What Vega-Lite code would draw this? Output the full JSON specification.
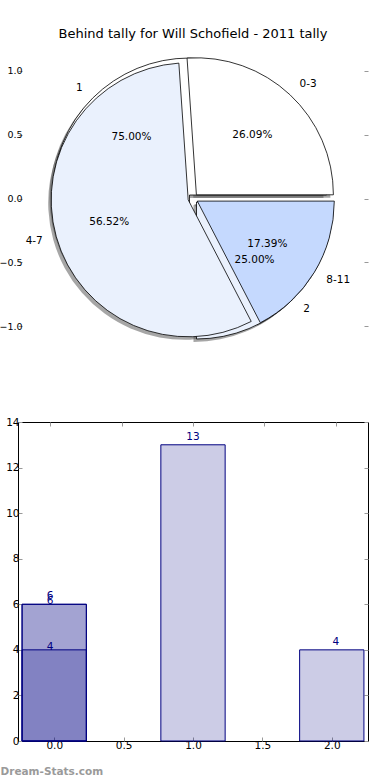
{
  "$schema": "https://vega.github.io/schema/vega-lite/v6.json",
  "padding": {"left": -2, "top": 28, "right": 0, "bottom": 0},
  "background": "#ffffff",
  "datasets": {
    "pie": [
      {"pie": "A", "label": "0-3", "value": 6, "pct": 0.2609, "idx": 0},
      {"pie": "A", "label": "4-7", "value": 13, "pct": 0.5652, "idx": 1},
      {"pie": "A", "label": "8-11", "value": 4, "pct": 0.1739, "idx": 2},
      {"pie": "B", "label": "1", "value": 3, "pct": 0.75, "idx": 0},
      {"pie": "B", "label": "2", "value": 1, "pct": 0.25, "idx": 1}
    ],
    "bars": [
      {"series": "s1", "x": 0, "v": 6},
      {"series": "s1", "x": 1, "v": 13},
      {"series": "s1", "x": 2, "v": 4},
      {"series": "s2", "x": 0, "v": 6},
      {"series": "s3", "x": 0, "v": 4}
    ]
  },
  "config": {
    "font": "DejaVu Sans",
    "view": {"stroke": null},
    "axis": {
      "labelFont": "DejaVu Sans",
      "labelFontSize": 10.5,
      "labelColor": "#000000",
      "tickColor": "#999999",
      "tickSize": -4,
      "labelPadding": 3,
      "domain": false,
      "grid": false,
      "title": null
    }
  },
  "bounds": "flush",
  "spacing": 70,
  "vconcat": [
    {
      "width": 350,
      "height": 307,
      "title": {
        "text": "Behind tally for Will Schofield - 2011 tally",
        "font": "DejaVu Sans",
        "fontSize": 13,
        "fontWeight": "normal",
        "color": "#000000",
        "offset": 4
      },
      "data": {"name": "pie"},
      "layer": [
        {
          "mark": {"type": "point", "opacity": 0},
          "encoding": {
            "y": {"datum": 0, "type": "quantitative", "scale": {"domain": [-1.2, 1.2], "nice": false, "zero": false},
              "axis": {"orient": "left", "values": [-1, -0.5, 0, 0.5, 1], "format": ".1f", "labelPadding": 0, "labelFontSize": 9.5}}
          }
        },
        {
          "mark": {"type": "point", "opacity": 0},
          "encoding": {
            "y": {"datum": 0, "type": "quantitative", "scale": {"domain": [-1.2, 1.2], "nice": false, "zero": false},
              "axis": {"orient": "right", "values": [-1, -0.5, 0, 0.5, 1], "labels": false}}
          }
        },
        {
          "transform": [
            {"stack": "value", "groupby": ["pie"], "sort": [{"field": "idx", "order": "ascending"}], "offset": "normalize", "as": ["v0", "v1"]},
            {"filter": "datum.label === '1'"}
          ],
          "mark": {"type": "arc", "radius": 137, "fill": "#4d4d4d", "fillOpacity": 0.5, "xOffset": -6.5, "yOffset": -0.5},
          "encoding": {
            "theta": {"field": "v0", "type": "quantitative", "scale": {"domain": [0, 1], "range": [1.5708, -4.7124]}},
            "theta2": {"field": "v1"}
          }
        },
        {
          "transform": [
            {"stack": "value", "groupby": ["pie"], "sort": [{"field": "idx", "order": "ascending"}], "offset": "normalize", "as": ["v0", "v1"]},
            {"filter": "datum.label === '2'"}
          ],
          "mark": {"type": "arc", "radius": 137, "fill": "#4d4d4d", "fillOpacity": 0.5, "xOffset": 0.5, "yOffset": 6.5},
          "encoding": {
            "theta": {"field": "v0", "type": "quantitative", "scale": {"domain": [0, 1], "range": [1.5708, -4.7124]}},
            "theta2": {"field": "v1"}
          }
        },
        {
          "transform": [
            {"stack": "value", "groupby": ["pie"], "sort": [{"field": "idx", "order": "ascending"}], "offset": "normalize", "as": ["v0", "v1"]},
            {"filter": "datum.label === '0-3'"}
          ],
          "mark": {"type": "arc", "radius": 137, "fill": "#4d4d4d", "fillOpacity": 0.5, "xOffset": 0.4, "yOffset": -0.7},
          "encoding": {
            "theta": {"field": "v0", "type": "quantitative", "scale": {"domain": [0, 1], "range": [1.5708, -4.7124]}},
            "theta2": {"field": "v1"}
          }
        },
        {
          "transform": [
            {"stack": "value", "groupby": ["pie"], "sort": [{"field": "idx", "order": "ascending"}], "offset": "normalize", "as": ["v0", "v1"]},
            {"filter": "datum.label === '4-7'"}
          ],
          "mark": {"type": "arc", "radius": 137, "fill": "#4d4d4d", "fillOpacity": 0.5, "xOffset": -7.8, "yOffset": 4.3},
          "encoding": {
            "theta": {"field": "v0", "type": "quantitative", "scale": {"domain": [0, 1], "range": [1.5708, -4.7124]}},
            "theta2": {"field": "v1"}
          }
        },
        {
          "transform": [
            {"stack": "value", "groupby": ["pie"], "sort": [{"field": "idx", "order": "ascending"}], "offset": "normalize", "as": ["v0", "v1"]},
            {"filter": "datum.label === '8-11'"}
          ],
          "mark": {"type": "arc", "radius": 137, "fill": "#4d4d4d", "fillOpacity": 0.5, "xOffset": 1.3, "yOffset": 5.6},
          "encoding": {
            "theta": {"field": "v0", "type": "quantitative", "scale": {"domain": [0, 1], "range": [1.5708, -4.7124]}},
            "theta2": {"field": "v1"}
          }
        },
        {
          "transform": [
            {"stack": "value", "groupby": ["pie"], "sort": [{"field": "idx", "order": "ascending"}], "offset": "normalize", "as": ["v0", "v1"]},
            {"filter": "datum.label === '1'"}
          ],
          "mark": {"type": "arc", "radius": 137, "fill": "#ffffff", "stroke": "#000000", "strokeWidth": 0.8, "xOffset": -3.5, "yOffset": -3.5},
          "encoding": {
            "theta": {"field": "v0", "type": "quantitative", "scale": {"domain": [0, 1], "range": [1.5708, -4.7124]}},
            "theta2": {"field": "v1"}
          }
        },
        {
          "transform": [
            {"stack": "value", "groupby": ["pie"], "sort": [{"field": "idx", "order": "ascending"}], "offset": "normalize", "as": ["v0", "v1"]},
            {"filter": "datum.label === '2'"}
          ],
          "mark": {"type": "arc", "radius": 137, "fill": "#eaf1fd", "stroke": "#000000", "strokeWidth": 0.8, "xOffset": 3.5, "yOffset": 3.5},
          "encoding": {
            "theta": {"field": "v0", "type": "quantitative", "scale": {"domain": [0, 1], "range": [1.5708, -4.7124]}},
            "theta2": {"field": "v1"}
          }
        },
        {
          "transform": [
            {"stack": "value", "groupby": ["pie"], "sort": [{"field": "idx", "order": "ascending"}], "offset": "normalize", "as": ["v0", "v1"]},
            {"filter": "datum.label === '0-3'"}
          ],
          "mark": {"type": "arc", "radius": 137, "fill": "#ffffff", "stroke": "#000000", "strokeWidth": 0.8, "xOffset": 3.4, "yOffset": -3.7},
          "encoding": {
            "theta": {"field": "v0", "type": "quantitative", "scale": {"domain": [0, 1], "range": [1.5708, -4.7124]}},
            "theta2": {"field": "v1"}
          }
        },
        {
          "transform": [
            {"stack": "value", "groupby": ["pie"], "sort": [{"field": "idx", "order": "ascending"}], "offset": "normalize", "as": ["v0", "v1"]},
            {"filter": "datum.label === '4-7'"}
          ],
          "mark": {"type": "arc", "radius": 137, "fill": "#eaf1fd", "stroke": "#000000", "strokeWidth": 0.8, "xOffset": -4.8, "yOffset": 1.3},
          "encoding": {
            "theta": {"field": "v0", "type": "quantitative", "scale": {"domain": [0, 1], "range": [1.5708, -4.7124]}},
            "theta2": {"field": "v1"}
          }
        },
        {
          "transform": [
            {"stack": "value", "groupby": ["pie"], "sort": [{"field": "idx", "order": "ascending"}], "offset": "normalize", "as": ["v0", "v1"]},
            {"filter": "datum.label === '8-11'"}
          ],
          "mark": {"type": "arc", "radius": 137, "fill": "#c5d9fe", "stroke": "#000000", "strokeWidth": 0.8, "xOffset": 4.3, "yOffset": 2.6},
          "encoding": {
            "theta": {"field": "v0", "type": "quantitative", "scale": {"domain": [0, 1], "range": [1.5708, -4.7124]}},
            "theta2": {"field": "v1"}
          }
        },
        {
          "transform": [{"filter": "datum.pie === 'A'"}],
          "mark": {"type": "text", "radius": 87, "fontSize": 10.5, "color": "#000000", "baseline": "middle", "align": "center"},
          "encoding": {
            "theta": {"field": "value", "type": "quantitative", "stack": "normalize", "scale": {"domain": [0, 1], "range": [1.5708, -4.7124]}},
            "order": {"field": "idx", "type": "quantitative"},
            "detail": {"field": "label", "type": "nominal"},
            "text": {"field": "pct", "type": "quantitative", "format": ".2%"}
          }
        },
        {
          "transform": [{"filter": "datum.pie === 'B'"}],
          "mark": {"type": "text", "radius": 87, "fontSize": 10.5, "color": "#000000", "baseline": "middle", "align": "center"},
          "encoding": {
            "theta": {"field": "value", "type": "quantitative", "stack": "normalize", "scale": {"domain": [0, 1], "range": [1.5708, -4.7124]}},
            "order": {"field": "idx", "type": "quantitative"},
            "detail": {"field": "label", "type": "nominal"},
            "text": {"field": "pct", "type": "quantitative", "format": ".2%"}
          }
        },
        {
          "transform": [{"filter": "datum.pie === 'A'"}],
          "mark": {"type": "text", "radius": 156, "fontSize": 10.5, "color": "#000000", "baseline": "middle",
            "align": {"expr": "(datum.label === '1' || datum.label === '4-7') ? 'right' : 'left'"}},
          "encoding": {
            "theta": {"field": "value", "type": "quantitative", "stack": "normalize", "scale": {"domain": [0, 1], "range": [1.5708, -4.7124]}},
            "order": {"field": "idx", "type": "quantitative"},
            "detail": {"field": "label", "type": "nominal"},
            "text": {"field": "label", "type": "nominal"}
          }
        },
        {
          "transform": [{"filter": "datum.pie === 'B'"}],
          "mark": {"type": "text", "radius": 156, "fontSize": 10.5, "color": "#000000", "baseline": "middle",
            "align": {"expr": "(datum.label === '1' || datum.label === '4-7') ? 'right' : 'left'"}},
          "encoding": {
            "theta": {"field": "value", "type": "quantitative", "stack": "normalize", "scale": {"domain": [0, 1], "range": [1.5708, -4.7124]}},
            "order": {"field": "idx", "type": "quantitative"},
            "detail": {"field": "label", "type": "nominal"},
            "text": {"field": "label", "type": "nominal"}
          }
        }
      ],
      "resolve": {"scale": {"y": "independent"}}
    },
    {
      "width": 350,
      "height": 319,
      "view": {"stroke": "#000000", "strokeWidth": 1},
      "data": {"name": "bars"},
      "layer": [
        {
          "mark": {"type": "bar", "width": 64.3, "fill": "#000080", "fillOpacity": 0.2, "stroke": "#000080", "strokeWidth": 1},
          "encoding": {
            "x": {"field": "x", "type": "quantitative", "scale": {"domain": [-0.225, 2.225], "nice": false, "zero": false},
              "axis": {"orient": "bottom", "values": [0, 0.5, 1, 1.5, 2], "format": ".1f",
                "title": "Dream-Stats.com", "titleX": -18, "titleY": 30, "titleAlign": "left", "titleAnchor": null,
                "titleBaseline": "middle", "titleFont": "DejaVu Sans", "titleFontSize": 10.5, "titleFontWeight": "bold", "titleColor": "#9a9a9a"}},
            "y": {"field": "v", "type": "quantitative", "stack": null, "scale": {"domain": [0, 14], "nice": false},
              "axis": {"orient": "left", "values": [0, 2, 4, 6, 8, 10, 12, 14], "format": "d"}}
          }
        },
        {
          "transform": [{"filter": "datum.series === 's1'"}],
          "mark": {"type": "text", "dy": -5, "baseline": "alphabetic", "align": "center", "color": "#000080", "fontSize": 10.5},
          "encoding": {
            "x": {"field": "x", "type": "quantitative", "scale": {"domain": [-0.225, 2.225], "nice": false, "zero": false}, "axis": null},
            "y": {"field": "v", "type": "quantitative", "scale": {"domain": [0, 14], "nice": false}, "axis": null},
            "text": {"field": "v", "type": "quantitative"}
          }
        },
        {
          "transform": [{"filter": "datum.series !== 's1'"}],
          "mark": {"type": "text", "dy": 0, "baseline": "alphabetic", "align": "center", "color": "#000080", "fontSize": 10.5},
          "encoding": {
            "x": {"field": "x", "type": "quantitative", "scale": {"domain": [-0.225, 2.225], "nice": false, "zero": false}, "axis": null},
            "y": {"field": "v", "type": "quantitative", "scale": {"domain": [0, 14], "nice": false}, "axis": null},
            "text": {"field": "v", "type": "quantitative"}
          }
        },
        {
          "mark": {"type": "point", "opacity": 0},
          "encoding": {
            "x": {"field": "x", "type": "quantitative", "scale": {"domain": [-0.225, 2.225], "nice": false, "zero": false},
              "axis": {"orient": "top", "values": [0, 0.5, 1, 1.5, 2], "labels": false}},
            "y": {"field": "v", "type": "quantitative", "scale": {"domain": [0, 14], "nice": false},
              "axis": {"orient": "right", "values": [0, 2, 4, 6, 8, 10, 12, 14], "labels": false}}
          }
        }
      ],
      "resolve": {"scale": {"x": "independent", "y": "independent"}}
    }
  ]
}
